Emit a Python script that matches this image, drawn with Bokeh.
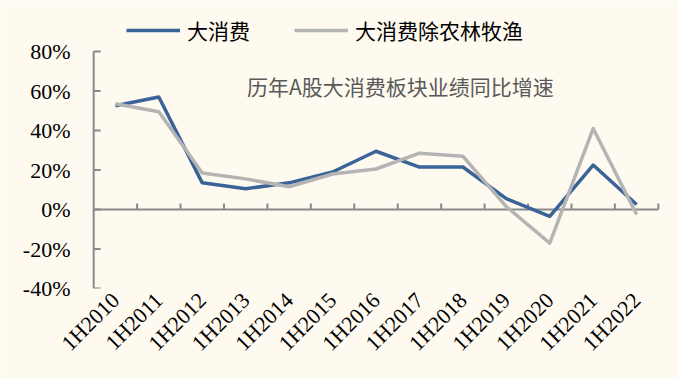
import math
from bokeh.plotting import figure
from bokeh.models import (Range1d, FixedTicker, PrintfTickFormatter, Legend,
                          LegendItem, Label, ColumnDataSource)
from bokeh.embed import file_html
from bokeh.resources import INLINE

# ---- data ----
categories = ["1H2010", "1H2011", "1H2012", "1H2013", "1H2014", "1H2015", "1H2016",
              "1H2017", "1H2018", "1H2019", "1H2020", "1H2021", "1H2022"]
big_consumption = [52.5, 57, 13.5, 10.5, 13.5, 19, 29.5, 21.5, 21.5, 5.5, -3.5, 22.5, 2.5]
big_consumption_ex_agri = [53.5, 49.5, 18.5, 15.5, 11.5, 18, 20.5, 28.5, 27, 1.5, -17, 41, -2.5]
y_ticks = [-40, -20, 0, 20, 40, 60, 80]
series_names = ["大消费", "大消费除农林牧渔"]
chart_title = "历年A股大消费板块业绩同比增速"

BG = "#FEFAF0"
BLUE = "#3A6397"
GRAY = "#B4B4B4"
AXIS = "#898989"

n = len(categories)
xs = [i + 0.5 for i in range(n)]
ymin, ymax = y_ticks[0], y_ticks[-1]
px_per_y = 237.0 / (ymax - ymin)      # frame pixels per percentage point
px_per_x = 565.0 / n                  # frame pixels per category
top_extra = 39                         # pixels above 80% kept inside the frame

p = figure(width=678, height=378, output_backend="svg", toolbar_location=None,
           x_range=Range1d(-0.05, n + 0.05),
           y_range=Range1d(ymin, ymax + top_extra / px_per_y),
           min_border_left=91, min_border_right=18, min_border_top=12,
           min_border_bottom=90, background_fill_color=BG, border_fill_color=BG,
           outline_line_color=None)
p.grid.visible = False

# y axis line + inward ticks
p.segment(x0=[0], y0=[ymin], x1=[0], y1=[ymax], line_color=AXIS, line_width=2)
p.segment(x0=[0] * len(y_ticks), y0=y_ticks, x1=[7 / px_per_x] * len(y_ticks), y1=y_ticks,
          line_color=AXIS, line_width=2)

# zero line with category boundary ticks
p.segment(x0=[0], y0=[0], x1=[n], y1=[0], line_color=AXIS, line_width=2)
bounds = list(range(1, n + 1))
p.segment(x0=bounds, y0=[0] * len(bounds), x1=bounds, y1=[6 / px_per_y] * len(bounds),
          line_color=AXIS, line_width=2)

src = ColumnDataSource(dict(x=xs, a=big_consumption, b=big_consumption_ex_agri))
r1 = p.line("x", "a", source=src, line_color=BLUE, line_width=3.5, line_join="round")
r2 = p.line("x", "b", source=src, line_color=GRAY, line_width=3.5, line_join="round")

# y axis (labels only)
ya = p.yaxis[0]
ya.ticker = FixedTicker(ticks=y_ticks)
ya.formatter = PrintfTickFormatter(format="%d%%")
ya.axis_line_color = None
ya.major_tick_line_color = None
ya.minor_tick_line_color = None
ya.major_tick_in = 0
ya.major_tick_out = 0
ya.major_label_standoff = 21
ya.major_label_text_font = "serif"
ya.major_label_text_font_size = "22px"
ya.major_label_text_color = "#000000"

# x axis (labels only)
xa = p.xaxis[0]
xa.ticker = FixedTicker(ticks=xs)
xa.major_label_overrides = {x: c for x, c in zip(xs, categories)}
xa.axis_line_color = None
xa.major_tick_line_color = None
xa.minor_tick_line_color = None
xa.major_tick_in = 0
xa.major_tick_out = 0
xa.major_label_orientation = math.pi / 4
xa.major_label_standoff = 8
xa.major_label_text_font = "serif"
xa.major_label_text_font_size = "22px"
xa.major_label_text_color = "#000000"

legend = Legend(items=[LegendItem(label=series_names[0], renderers=[r1]),
                       LegendItem(label=series_names[1], renderers=[r2])],
                orientation="horizontal", location=(35, 243),
                glyph_width=54, glyph_height=20, label_standoff=7, spacing=44,
                padding=0, margin=0, border_line_color=None,
                background_fill_alpha=0, label_text_font="Noto Sans CJK SC",
                label_text_font_size="21px", label_text_color="#000000")
p.add_layout(legend)

p.add_layout(Label(x=7.06, y=62.3, text=chart_title, text_align="center",
                   text_baseline="middle", text_font="Noto Sans CJK SC",
                   text_font_size="21px", text_color="#595959"))

open("out.html", "w").write(file_html(p, INLINE))
